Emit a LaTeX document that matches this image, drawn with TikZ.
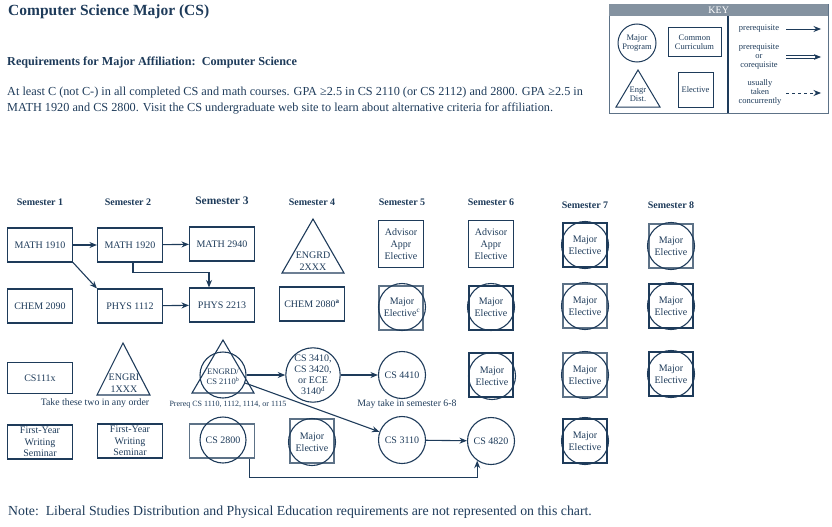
\documentclass[tikz,border=0pt]{standalone}
\usepackage{fontspec}
\setmainfont{Liberation Serif}
\usetikzlibrary{arrows.meta}
\definecolor{navy}{HTML}{1E3B5A}
\definecolor{slate}{HTML}{5D7287}
\definecolor{keygray}{HTML}{8492A0}
\begin{document}
\begin{tikzpicture}[x=1pt,y=-1pt,
  every node/.style={text=navy, inner sep=0pt},
  box/.style={draw=navy, line width=1.1pt, minimum width=65pt, minimum height=34pt, align=center, font=\fontsize{10}{11}\selectfont},
  advbox/.style={draw=navy, line width=1.1pt, minimum width=45pt, minimum height=47pt, align=center, font=\fontsize{10}{12}\selectfont},
  sqbox/.style={draw=#1, line width=1.1pt, minimum size=44pt},
  sqbox/.default=navy,
  circ/.style={draw=navy, line width=1.1pt, circle, minimum size=47pt, align=center, font=\fontsize{10}{11.5}\selectfont},
  arr/.style={draw=navy, line width=1.1pt, -{Stealth[length=7.5pt,width=6pt]}},
  sem/.style={font=\bfseries\fontsize{10}{12}\selectfont},
  tri/.style={draw=navy, line width=1.1pt, line join=miter},
  keytxt/.style={font=\fontsize{8.5}{9}\selectfont, align=center},
  note/.style={font=\fontsize{9.8}{11}\selectfont},
]
\useasboundingbox (0,0) rectangle (832,527);

% ---- header text ----
\node[anchor=west, font=\bfseries\fontsize{15.5}{17}\selectfont] (title) at (8,12) {Computer Science Major (CS)};
\node[anchor=west, font=\bfseries\fontsize{12.2}{14}\selectfont] (req) at (7,63) {Requirements for Major Affiliation:\ \ Computer Science};
\node[anchor=west, font=\fontsize{12.25}{14}\selectfont] (para1) at (7,93) {At least C (not C-) in all completed CS and math courses. GPA ≥2.5 in CS 2110 (or CS 2112) and 2800. GPA ≥2.5 in};
\node[anchor=west, font=\fontsize{12.25}{14}\selectfont] (para2) at (7,109) {MATH 1920 and CS 2800. Visit the CS undergraduate web site to learn about alternative criteria for affiliation.};
\node[anchor=west, font=\fontsize{13.8}{15}\selectfont] (notetxt) at (8,512) {Note:\ \ Liberal Studies Distribution and Physical Education requirements are not represented on this chart.};

% ---- key ----
\node[draw=slate, line width=1.2pt, minimum width=219pt, minimum height=109pt, anchor=north west] (keybox) at (609,4) {};
\node[fill=keygray, minimum width=219pt, minimum height=12pt, anchor=north west, text=white, font=\fontsize{10}{11}\selectfont] (keyhead) at (609,4) {KEY};
\draw[navy, line width=1.1pt] (728,16) -- (728,113);
\node[draw=navy, line width=1pt, circle, minimum size=38pt, keytxt] (kmajor) at (637,43) {Major\\Program};
\node[draw=navy, line width=1pt, minimum width=53pt, minimum height=29pt, keytxt] (kcommon) at (694.5,42.5) {Common\\Curriculum};
\draw[tri, line width=1pt] (638,70) -- (660,107) -- (616,107) -- cycle;
\node[keytxt] (kengr) at (638,94) {Engr\\Dist.};
\node[draw=navy, line width=1pt, minimum size=35pt, keytxt] (kelec) at (695.5,89.5) {Elective};
\node[keytxt] (kpre) at (759,29) {prerequisite};
\node[keytxt] (kco) at (759,57) {prerequisite\\or\\corequisite};
\node[keytxt] (kcon) at (760,92) {usually\\taken\\concurrently};
\coordinate (ka1) at (786,29); \coordinate (kb1) at (821,29);
\coordinate (ka2) at (786,57); \coordinate (kb2) at (821,57);
\coordinate (ka3) at (786,93); \coordinate (kb3) at (821,93);
\draw[arr, line width=0.9pt] (ka1) -- (kb1);
\draw[navy, line width=0.8pt] (786,55.5) -- (815,55.5) (786,58.5) -- (815,58.5);
\draw[arr, line width=0.9pt, draw opacity=0] (ka2) -- (kb2);
\fill[navy] (kb2) -- ++(-7,-2.8) -- ++(1.5,2.8) -- ++(-1.5,2.8) -- cycle;
\draw[arr, line width=0.9pt, dashed] (ka3) -- (kb3);

% ---- semester headers ----
\node[sem] (s1) at (40,202) {Semester 1};
\node[sem] (s2) at (128,202) {Semester 2};
\node[sem, font=\bfseries\fontsize{11.5}{13}\selectfont] (s3) at (222,201) {Semester 3};
\node[sem] (s4) at (312,202) {Semester 4};
\node[sem] (s5) at (402,202) {Semester 5};
\node[sem] (s6) at (491,202) {Semester 6};
\node[sem] (s7) at (585,205) {Semester 7};
\node[sem] (s8) at (671,205) {Semester 8};

% ---- row 1 ----
\node[box] (m1910) at (40,245) {MATH 1910};
\node[box] (m1920) at (130,245) {MATH 1920};
\node[box] (m2940) at (222,244) {MATH 2940};
\draw[tri] (313,219) -- (344,273) -- (282,273) -- cycle;
\node[align=center, font=\fontsize{10}{12.5}\selectfont] (e2xxx) at (313,261) {ENGRD\\2XXX};
\node[advbox] (adv5) at (401,244) {Advisor\\Appr\\Elective};
\node[advbox] (adv6) at (491,244) {Advisor\\Appr\\Elective};
\node[sqbox] (me7aS) at (585,245) {};
\node[circ] (me7a) at (585,245) {Major\\Elective};
\node[sqbox=slate] (me8aS) at (671,246) {};
\node[circ] (me8a) at (671,246) {Major\\Elective};

% ---- row 2 ----
\node[box] (c2090) at (40,306) {CHEM 2090};
\node[box] (p1112) at (130,306) {PHYS 1112};
\node[box] (p2213) at (222,305) {PHYS 2213};
\node[box] (c2080) at (312,304) {CHEM 2080\textsuperscript{\textbf{a}}};
\node[sqbox=slate] (me5bS) at (401,308) {};
\node[circ] (me5b) at (402,307) {Major\\Elective\textsuperscript{c}};
\node[sqbox] (me6bS) at (491,308) {};
\node[circ] (me6b) at (491,307) {Major\\Elective};
\node[sqbox=slate] (me7bS) at (585,306) {};
\node[circ] (me7b) at (585,306) {Major\\Elective};
\node[sqbox] (me8bS) at (671,306) {};
\node[circ] (me8b) at (671,306) {Major\\Elective};

% ---- row 3 ----
\node[box, minimum height=31pt] (cs111x) at (40,378) {CS111x};
\draw[tri] (123,343) -- (150,395) -- (97,395) -- cycle;
\node[align=center, font=\fontsize{10}{12}\selectfont] (engri) at (124,383) {ENGRI\\1XXX};
\node[note] (anyorder) at (95,403) {Take these two in any order};
\draw[tri] (223,340) -- (254,393) -- (192,393) -- cycle;
\node[draw=navy, line width=1.1pt, circle, minimum size=46pt] (e2110c) at (223,375) {};
\node[align=center, font=\fontsize{8.5}{10}\selectfont] (e2110) at (223,377) {ENGRD/\\CS 2110\textsuperscript{b}};
\node[font=\fontsize{8}{9}\selectfont] (prereq) at (228,405) {Prereq CS 1110, 1112, 1114, or 1115};
\node[circ, minimum size=46pt, font=\fontsize{10}{11}\selectfont] (cs3410) at (313,375) {CS 3410,\\CS 3420,\\or ECE\\3140\textsuperscript{d}};
\node[circ] (cs4410) at (402,375) {CS 4410};
\node[note] (maytake) at (407,404) {May take in semester 6-8};
\node[sqbox] (me6cS) at (491,375) {};
\node[circ] (me6c) at (492,376) {Major\\Elective};
\node[sqbox=slate] (me7cS) at (585,375) {};
\node[circ] (me7c) at (585,375) {Major\\Elective};
\node[sqbox] (me8cS) at (671,374) {};
\node[circ] (me8c) at (671,374) {Major\\Elective};

% ---- row 4 ----
\node[box, font=\fontsize{10}{11.5}\selectfont] (fws1) at (40,442) {First-Year\\Writing\\Seminar};
\node[box, font=\fontsize{10}{11.5}\selectfont] (fws2) at (130,441) {First-Year\\Writing\\Seminar};
\node[box, draw=slate] (cs2800r) at (222,441) {};
\node[circ, minimum size=46pt] (cs2800) at (223,440) {CS 2800};
\node[sqbox=slate] (me4dS) at (312,441) {};
\node[circ] (me4d) at (312,442) {Major\\Elective};
\node[circ] (cs3110) at (402,440) {CS 3110};
\node[circ] (cs4820) at (491,441) {CS 4820};
\node[sqbox] (me7dS) at (585,441) {};
\node[circ] (me7d) at (585,441) {Major\\Elective};

% ---- connectors ----
\draw[arr] (m1910) -- (m1920);
\draw[arr] (m1910.south east) -- (p1112.north west);
\draw[arr] (m1920) -- (m2940);
\draw[arr] ([xshift=3pt]m1920.south) -- ++(0,10) -| ([xshift=-13pt]p2213.north);
\draw[arr] (p1112) -- (p2213);
\draw[arr] (e2110c) -- (cs3410);
\draw[arr] (cs3410) -- (cs4410);
\draw[arr] (e2110c) -- (cs3110);
\draw[arr] (cs3110) -- (cs4820);
\draw[arr] ([xshift=-6pt]cs2800r.south east) -- ++(0,19) -| (cs4820.235);
\end{tikzpicture}
\end{document}
